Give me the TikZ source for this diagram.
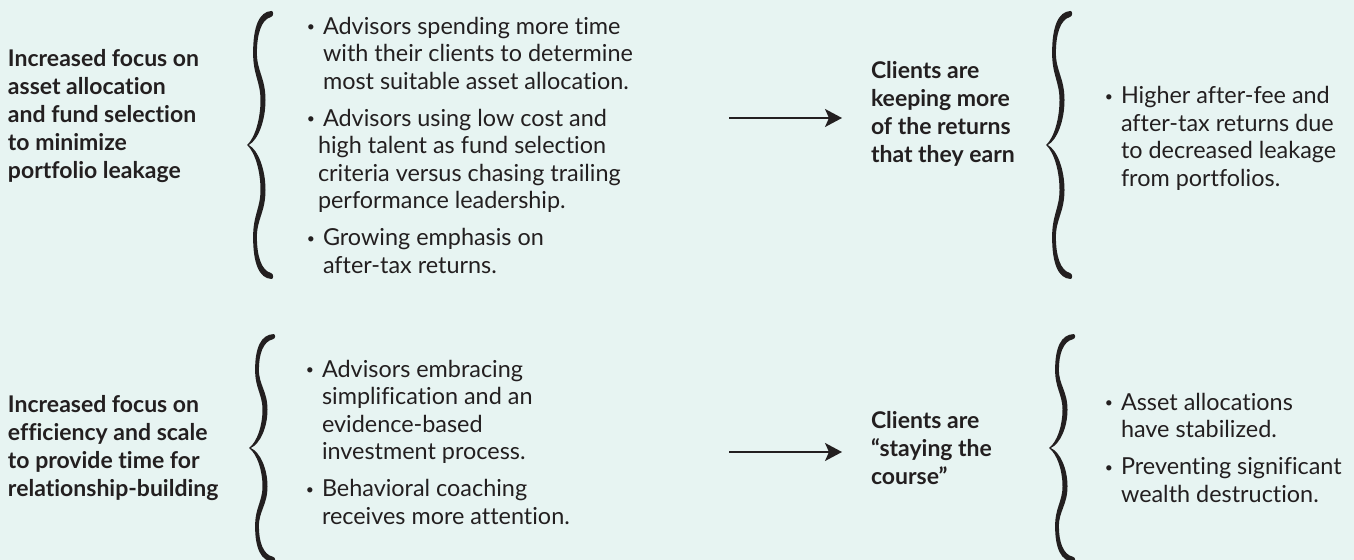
\documentclass[tikz,border=0pt]{standalone}
\usepackage{fontspec}
\setmainfont{Lato}[Ligatures={TeX,NoCommon}]
\usepackage{tikz}
\usetikzlibrary{arrows.meta, positioning}

\definecolor{mint}{HTML}{E7F4F2}
\definecolor{ink}{HTML}{231F20}

% small bullet hung in front of a line
\newcommand{\bul}{\llap{\raisebox{1.1pt}{\scalebox{0.6}{\textbullet}}\hspace{4pt}}}

\tikzset{
  brace arm/.style={insert path={
      (0.8,0) .. controls (10,5) and (17.5,24) .. (17.5,45)
      .. controls (17.5,67) and (8.9,74) .. (8.9,92)
      .. controls (8.9,110) and (13,125.5) .. (23,128)
      .. controls (25.5,128.5) and (26,134) .. (23.5,134)
      .. controls (11,133.5) and (5.1,118) .. (5.1,92)
      .. controls (5.1,70) and (12.5,63) .. (12.5,45)
      .. controls (12.5,27) and (7.5,8) .. (-0.8,0) -- cycle}},
  curly/.pic={
    \fill[ink, brace arm];
    \fill[ink, yscale=-1, brace arm];
  },
}

\begin{document}
\begin{tikzpicture}[x=0.5pt, y=0.5pt,
    every node/.style={inner sep=0pt, outer sep=0pt, text=ink, align=left,
      font=\fontsize{11.7}{13.75}\selectfont},
    cause/.style={anchor=west, font=\bfseries\fontsize{11.5}{14}\selectfont},
    points/.style={anchor=west},
    flow/.style={draw=ink, line width=0.85pt, shorten >=14.5pt,
      -{Stealth[length=8.5pt, width=9pt, inset=2pt]}}]
    \fill[mint] (0, 0) rectangle (1354, -560);
    \useasboundingbox (0, 0) rectangle (1354, -560);

    % first row
    \node[cause] (focusA) at (8, -116) {Increased focus on\\asset allocation\\and fund selection\\to minimize\\portfolio leakage};
    \node[points] (listA) at (323, -145) {\bul Advisors spending more time\\with their clients to determine\\most suitable asset allocation.\\[4.75pt]\bul Advisors using low cost and\\\hspace*{-2.5pt}high talent as fund selection\\\hspace*{-2.5pt}criteria versus chasing trailing\\\hspace*{-2.5pt}performance leadership.\\[4.75pt]\bul Growing emphasis on\\after-tax returns.};
    \node[cause] (keepA) at (871, -113.5) {Clients are\\keeping more\\of the returns\\that they earn};
    \node[points] (resA) at (1121, -138.5) {\bul Higher after-fee and\\after-tax returns due\\to decreased leakage\\from portfolios.};

    % second row
    \node[cause] (focusB) at (8, -448.5) {Increased focus on\\efficiency and scale\\to provide time for\\relationship-building};
    \node[points] (listB) at (322, -442) {\bul Advisors embracing\\simplification and an\\evidence-based\\investment process.\\[4.75pt]\bul Behavioral coaching\\receives more attention.};
    \node[cause] (stayB) at (871, -448) {Clients are\\“staying the\\course”};
    \node[points] (resB) at (1121, -447.5) {\bul Asset allocations\\have stabilized.\\[4.75pt]\bul Preventing significant\\wealth destruction.};

    % braces
    \pic at (248, -145) {curly};
    \pic at (1047, -145) {curly};
    \pic[yscale=0.85] at (250, -448) {curly};
    \pic[yscale=0.85] at (1050, -448) {curly};

    % arrows
    \coordinate (startA) at (729, -118);
    \coordinate (startB) at (729, -452);
    \draw[flow] (startA) -- (startA -| keepA.west);
    \draw[flow] (startB) -- (startB -| stayB.west);
\end{tikzpicture}
\end{document}
